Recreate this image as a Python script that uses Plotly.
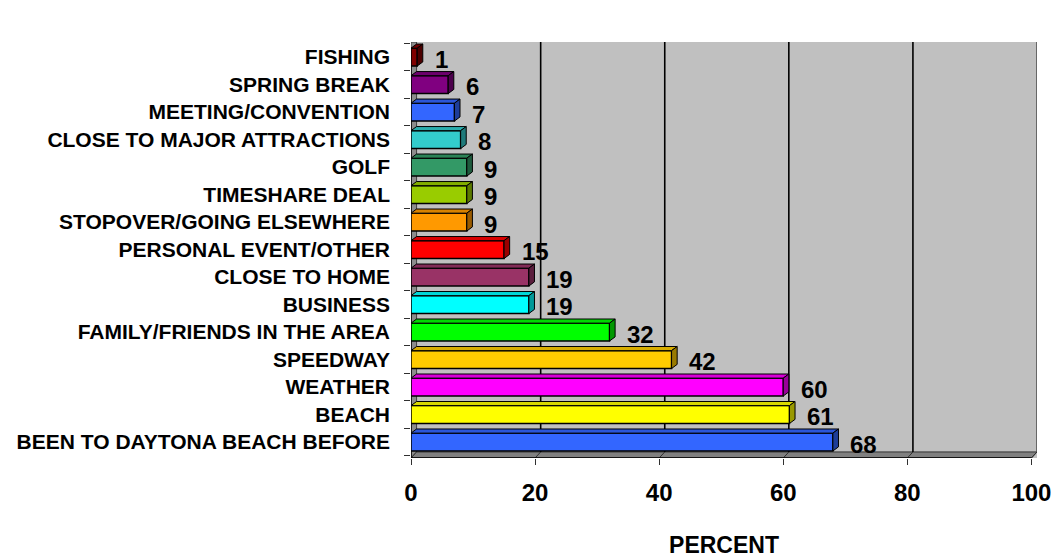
import plotly.graph_objects as go

# Reasons for visiting, listed bottom to top
categories = [
    "BEEN TO DAYTONA BEACH BEFORE", "BEACH", "WEATHER", "SPEEDWAY",
    "FAMILY/FRIENDS IN THE AREA", "BUSINESS", "CLOSE TO HOME",
    "PERSONAL EVENT/OTHER", "STOPOVER/GOING ELSEWHERE", "TIMESHARE DEAL",
    "GOLF", "CLOSE TO MAJOR ATTRACTIONS", "MEETING/CONVENTION",
    "SPRING BREAK", "FISHING",
]
percent = [68, 61, 60, 42, 32, 19, 19, 15, 9, 9, 9, 8, 7, 6, 1]
bar_colors = [
    "#3366FF", "#FFFF00", "#FF00FF", "#FFCC00", "#00FF00", "#00FFFF",
    "#993366", "#FF0000", "#FF9900", "#99CC00", "#339966", "#33CCCC",
    "#3366FF", "#800080", "#800000",
]
x_ticks = [0, 20, 40, 60, 80, 100]

FONT = "Arial, Liberation Sans, sans-serif"
DX = 0.9        # depth offset along x (data units)
DY = 0.15       # depth offset of bars along y (category units)
DYW = 0.22      # depth offset of the floor
BAR_W = 0.65
Y_LO, Y_HI = -0.58, 14.55
X_HI = 100 + DX


def shade(hex_color, f):
    h = hex_color.lstrip("#")
    r, g, b = (int(h[i:i + 2], 16) for i in (0, 2, 4))
    return "rgb({},{},{})".format(int(r * f), int(g * f), int(b * f))


idx = list(range(len(categories)))

fig = go.Figure()

# front faces of the bars
fig.add_trace(go.Bar(
    x=percent, y=idx, orientation="h", width=BAR_W,
    marker=dict(color=bar_colors, line=dict(color="black", width=1.5)),
    hoverinfo="skip", showlegend=False,
))

# top and side faces give the bars depth
for i, v, c in zip(idx, percent, bar_colors):
    yt = i + BAR_W / 2
    yb = i - BAR_W / 2
    fig.add_trace(go.Scatter(
        x=[0, v, v + DX, DX, 0], y=[yt, yt, yt + DY, yt + DY, yt],
        mode="lines", fill="toself", fillcolor=shade(c, 0.85),
        line=dict(color="black", width=1), hoverinfo="skip", showlegend=False,
    ))
    fig.add_trace(go.Scatter(
        x=[v, v + DX, v + DX, v, v], y=[yb, yb + DY, yt + DY, yt, yb],
        mode="lines", fill="toself", fillcolor=shade(c, 0.6),
        line=dict(color="black", width=1), hoverinfo="skip", showlegend=False,
    ))

shapes = []
# left wall
shapes.append(dict(
    type="path", layer="below",
    path="M 0 {a} L {dx} {b} L {dx} {hi} L 0 {hi} Z".format(
        a=Y_LO, b=Y_LO + DYW, dx=DX, hi=Y_HI),
    fillcolor="#8C8C8C", line=dict(color="#404040", width=1),
))
# floor
shapes.append(dict(
    type="path", layer="below",
    path="M 0 {a} L 100 {a} L {x2} {b} L {dx} {b} Z".format(
        a=Y_LO, b=Y_LO + DYW, x2=100 + DX, dx=DX),
    fillcolor="#808080", line=dict(color="#303030", width=1),
))
# back-wall gridlines and their floor continuations
for t in x_ticks[1:]:
    col = "black" if t < 100 else "#505050"
    shapes.append(dict(
        type="line", layer="below", x0=t + DX, x1=t + DX,
        y0=Y_LO + DYW, y1=Y_HI, line=dict(color=col, width=1.6),
    ))
    shapes.append(dict(
        type="line", layer="below", x0=t, x1=t + DX,
        y0=Y_LO, y1=Y_LO + DYW, line=dict(color="#303030", width=1),
    ))
# front edges
shapes.append(dict(type="line", x0=0, x1=0, y0=Y_LO, y1=Y_HI - DYW,
                   line=dict(color="black", width=1.5), layer="below"))
shapes.append(dict(type="line", x0=0, x1=100, y0=Y_LO, y1=Y_LO,
                   line=dict(color="black", width=1.5), layer="below"))

annotations = []
for i, v in zip(idx, percent):
    annotations.append(dict(
        x=v + DX, y=i, text=str(v), showarrow=False,
        xanchor="left", yanchor="middle", xshift=10, yshift=-2,
        font=dict(family=FONT, size=24, color="black", weight="bold"),
    ))

fig.update_layout(
    width=1057, height=558,
    margin=dict(l=411, r=20, t=42, b=100),
    paper_bgcolor="white", plot_bgcolor="#C0C0C0",
    font=dict(family=FONT, color="black"),
    shapes=shapes, annotations=annotations,
    xaxis=dict(
        range=[0, X_HI], tickvals=x_ticks, ticktext=[str(t) for t in x_ticks],
        ticks="outside", ticklen=6, tickcolor="#303030", tickwidth=1,
        showgrid=False, zeroline=False, showline=False,
        tickfont=dict(family=FONT, size=24, weight="bold"),
        ticklabelstandoff=7,
        title=dict(text="PERCENT", standoff=38,
                   font=dict(family=FONT, size=23, weight="bold")),
        automargin=False,
        fixedrange=True,
    ),
    yaxis=dict(
        range=[Y_LO, Y_HI], tickvals=idx, ticktext=categories,
        ticks="", showgrid=False, zeroline=False, showline=False,
        tickfont=dict(family=FONT, size=21, weight="bold"),
        ticklabelstandoff=20,
        minor=dict(tickmode="array", tickvals=[i + 0.5 for i in range(-1, 15)],
                   ticks="outside", ticklen=6, tickcolor="#303030", showgrid=False),
        automargin=False,
        fixedrange=True,
    ),
)

fig.write_html("out.html")
